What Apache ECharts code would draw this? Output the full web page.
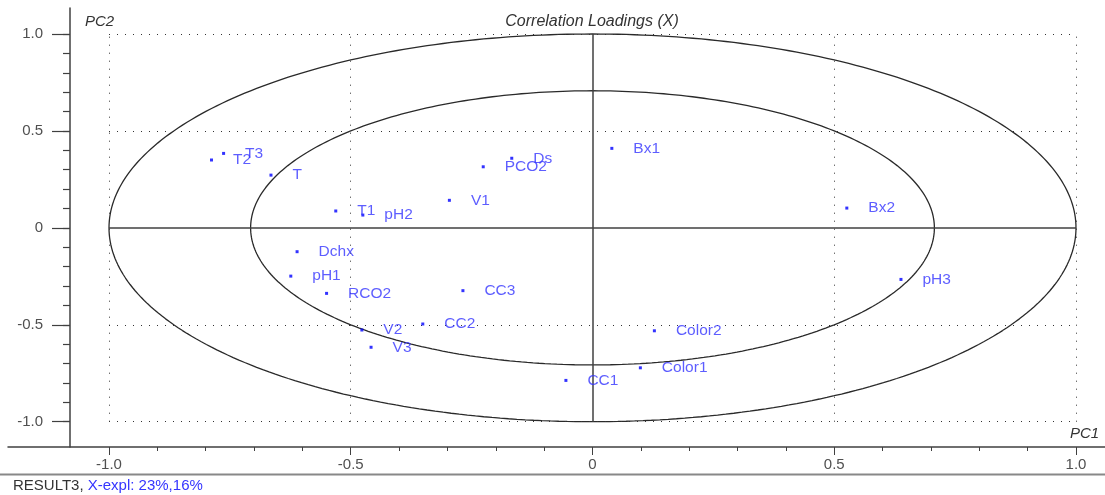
<!DOCTYPE html>
<html><head><meta charset="utf-8">
<script src="https://cdn.jsdelivr.net/npm/echarts@6/dist/echarts.min.js"></script>
<style>html,body{margin:0;padding:0;background:#fff}#c{width:1105px;height:495px}</style>
</head><body><div id="c"></div>
<script>
const variables = ['T3','T2','T','T1','pH2','Ds','PCO2','V1','Bx1','Bx2','Dchx','pH1','RCO2','CC3','CC2','V2','V3','Color2','Color1','CC1','pH3'];
const pc1 = [-0.763,-0.788,-0.665,-0.531,-0.475,-0.167,-0.226,-0.296,0.040,0.526,-0.611,-0.624,-0.550,-0.268,-0.351,-0.477,-0.458,0.128,0.099,-0.055,0.638];
const pc2 = [0.384,0.350,0.272,0.087,0.066,0.359,0.315,0.142,0.410,0.102,-0.123,-0.249,-0.338,-0.324,-0.496,-0.527,-0.616,-0.531,-0.722,-0.787,-0.266];
const majorTicks = [-1, -0.5, 0, 0.5, 1];
const minorTicks = [-1,-0.9,-0.8,-0.7,-0.6,-0.5,-0.4,-0.3,-0.2,-0.1,0,0.1,0.2,0.3,0.4,0.5,0.6,0.7,0.8,0.9,1];
const dottedLevels = [-1, -0.5, 0.5, 1];
const circleRadii = [1, Math.SQRT1_2];
const titleText = 'Correlation Loadings (X)';
const xName = 'PC1';
const yName = 'PC2';
const resultName = 'RESULT3, ';
const explText = 'X-expl: 23%,16%';

const FONT = "'Liberation Sans', Arial, sans-serif";
const X_MIN = -1.2089, X_MAX = 1.060;
const Y_MIN = -1.1305, Y_MAX = 1.1341;

function ellipse(r) {
  const pts = [];
  for (let i = 0; i <= 360; i++) {
    const a = i * Math.PI / 180;
    pts.push([r * Math.cos(a), r * Math.sin(a)]);
  }
  return pts;
}

const dotted = { type: [1, 7], color: '#333', width: 1 };
const solid = { type: 'solid', color: '#404040', width: 1.5 };
const refLines = [];
dottedLevels.forEach(v => {
  refLines.push([{ coord: [-1, v], lineStyle: dotted }, { coord: [1, v] }]);
  refLines.push([{ coord: [v, -1], lineStyle: dotted }, { coord: [v, 1] }]);
});
refLines.push([{ coord: [-1, 0], lineStyle: solid }, { coord: [1, 0] }]);
refLines.push([{ coord: [0, -1], lineStyle: solid }, { coord: [0, 1] }]);

const fmt = v => (Math.abs(v) < 1e-9 ? '0' : v.toFixed(1));
const axisLineStyle = { color: '#404040', width: 1.5 };

const chart = echarts.init(document.getElementById('c'), null, { renderer: 'canvas' });
chart.setOption({
  animation: false,
  backgroundColor: '#fff',
  grid: { left: 8, right: 0, top: 8, bottom: 48, containLabel: false },
  xAxis: [
    { type: 'value', min: X_MIN, max: X_MAX, position: 'bottom',
      axisLine: { show: true, onZero: false, lineStyle: axisLineStyle },
      axisTick: { show: true, customValues: majorTicks, length: 8, lineStyle: { color: '#404040', width: 1 } },
      axisLabel: { show: true, customValues: majorTicks, formatter: fmt, color: '#505050', fontSize: 15, fontFamily: FONT, margin: 10 },
      splitLine: { show: false } },
    { type: 'value', min: X_MIN, max: X_MAX, position: 'bottom',
      axisLine: { show: false, onZero: false },
      axisTick: { show: true, customValues: minorTicks, length: 4, lineStyle: { color: '#404040', width: 1 } },
      axisLabel: { show: false }, splitLine: { show: false } }
  ],
  yAxis: [
    { type: 'value', min: Y_MIN, max: Y_MAX, position: 'left', offset: -62,
      axisLine: { show: true, onZero: false, lineStyle: axisLineStyle },
      axisTick: { show: true, customValues: majorTicks, length: 18, lineStyle: { color: '#404040', width: 1.2 } },
      axisLabel: { show: true, customValues: majorTicks, formatter: fmt, color: '#505050', fontSize: 15, fontFamily: FONT, margin: 27 },
      splitLine: { show: false } },
    { type: 'value', min: Y_MIN, max: Y_MAX, position: 'left', offset: -62,
      axisLine: { show: false, onZero: false },
      axisTick: { show: true, customValues: minorTicks, length: 7, lineStyle: { color: '#404040', width: 1.2 } },
      axisLabel: { show: false }, splitLine: { show: false } }
  ],
  series: [
    { type: 'line', data: [], silent: true, z: 1,
      markLine: { silent: true, symbol: ['none', 'none'], label: { show: false }, data: refLines, animation: false } },
    ...circleRadii.map(r => ({
      type: 'line', data: ellipse(r), showSymbol: false, silent: true, z: 2,
      lineStyle: { color: '#2a2a2a', width: 1.3 }
    })),
    { type: 'scatter', z: 5,
      data: pc1.map((x, i) => [x, pc2[i], variables[i]]),
      symbol: 'rect', symbolSize: 3,
      itemStyle: { color: '#0000ff' },
      label: { show: true, position: 'right', distance: 20, formatter: p => p.data[2],
               color: '#3535ff', fontSize: 15.5, fontFamily: FONT },
      labelLayout: { hideOverlap: false } }
  ],
  graphic: [
    { type: 'text', x: 592, y: 22, style: { text: titleText, align: 'center', verticalAlign: 'middle', fontSize: 16, fontStyle: 'italic', fontFamily: FONT, fill: '#333' } },
    { type: 'text', x: 85, y: 22, style: { text: yName, align: 'left', verticalAlign: 'middle', fontSize: 15, fontStyle: 'italic', fontFamily: FONT, fill: '#333' } },
    { type: 'text', x: 1070, y: 434, style: { text: xName, align: 'left', verticalAlign: 'middle', fontSize: 15, fontStyle: 'italic', fontFamily: FONT, fill: '#333' } },
    { type: 'line', shape: { x1: 0, y1: 474.5, x2: 1105, y2: 474.5 }, style: { stroke: '#888', lineWidth: 2 } },
    { type: 'text', x: 13, y: 486, style: { text: '{a|' + resultName + '}{b|' + explText + '}', verticalAlign: 'middle',
      rich: { a: { fontSize: 15, fontFamily: FONT, fill: '#333', color: '#333' }, b: { fontSize: 15, fontFamily: FONT, fill: '#3535ff', color: '#3535ff' } } } }
  ]
});
</script></body></html>
